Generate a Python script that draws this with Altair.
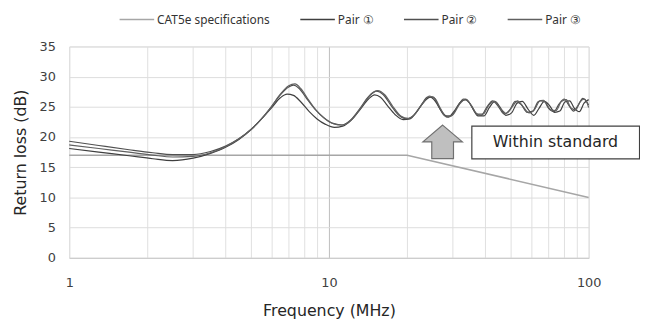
import altair as alt
import pandas as pd

# ---- data ----
spec_f = [1, 20, 100]
spec_v = [17, 17, 10]

p1_f = [1, 1.3, 1.7, 2.1, 2.5, 3.0, 3.5, 4.0, 4.5, 5.0, 5.5, 6.0, 6.5, 6.9, 7.3, 7.8, 8.4, 9.0, 9.7,
        10.5, 11.3, 12.2, 13.2, 14.2, 15.0, 15.8, 16.8, 18.0, 19.3, 20.5, 21.8, 23.2, 24.6, 25.8,
        27.2, 28.8, 30.5, 32.3, 33.8, 35.5, 37.5, 39.5, 41.5, 43.5, 45.5, 48, 50.5, 53, 55.5, 58.5,
        61.5, 64.5, 67.5, 70.5, 74, 77.5, 81, 84.5, 88, 92, 96, 100]
p1_v = [18.1, 17.5, 16.9, 16.4, 16.1, 16.5, 17.3, 18.3, 19.6, 21.2, 23.0, 24.8, 26.5, 27.1, 26.9, 25.8,
        24.2, 23.0, 22.1, 21.6, 21.8, 22.8, 24.6, 26.3, 27.0, 26.6, 25.2, 23.7, 22.9, 23.0, 24.2, 25.8,
        26.6, 25.8, 24.2, 23.3, 24.4, 25.9, 26.2, 25.0, 23.5, 23.5, 24.9, 25.9, 25.0, 23.6, 24.0, 25.6,
        25.9, 24.6, 23.6, 24.8, 25.9, 25.3, 24.1, 24.3, 25.8, 26.0, 24.8, 24.2, 25.6, 26.2]

p2_f = [1, 1.3, 1.7, 2.1, 2.5, 3.0, 3.5, 4.0, 4.5, 5.0, 5.5, 6.0, 6.5, 7.0, 7.3, 7.7, 8.2, 8.8, 9.5,
        10.3, 11.2, 12.1, 13.1, 14.2, 15.2, 16.2, 17.3, 18.6, 19.9, 21.2, 22.6, 24.0, 25.2, 26.5,
        28.0, 29.5, 31.2, 33.0, 34.8, 36.7, 38.6, 40.6, 42.7, 45.0, 47.3, 49.7, 52.2, 55, 58, 61,
        64, 67, 70, 73.5, 77, 80.5, 84, 87.5, 91, 95, 100]
p2_v = [19.3, 18.6, 17.9, 17.4, 17.1, 17.1, 17.6, 18.5, 19.7, 21.2, 23.0, 25.0, 27.0, 28.3, 28.6, 28.0,
        26.4, 24.7, 23.3, 22.3, 22.0, 22.8, 24.6, 26.7, 27.6, 27.0, 25.3, 23.6, 23.0, 23.6, 25.2, 26.6,
        26.6, 25.0, 23.5, 23.5, 25.0, 26.3, 25.6, 24.0, 23.6, 25.0, 26.0, 25.0, 23.8, 24.5, 25.9, 25.4,
        24.1, 24.3, 25.9, 26.1, 24.8, 24.2, 25.5, 26.3, 25.2, 24.3, 25.2, 26.4, 25.3]

p3_f = [1, 1.3, 1.7, 2.1, 2.5, 3.0, 3.5, 4.0, 4.5, 5.0, 5.5, 6.0, 6.5, 7.0, 7.4, 7.8, 8.3, 8.9, 9.6,
        10.4, 11.3, 12.3, 13.3, 14.4, 15.4, 16.4, 17.6, 18.9, 20.2, 21.5, 23.0, 24.4, 25.6, 26.9,
        28.4, 30.0, 31.8, 33.6, 35.4, 37.3, 39.2, 41.3, 43.4, 45.8, 48.2, 50.6, 53.2, 56, 59, 62,
        65, 68, 71.5, 75, 78.5, 82, 85.5, 89, 92.5, 96.5, 100]
p3_v = [18.7, 18.1, 17.5, 17.0, 16.7, 16.8, 17.4, 18.4, 19.7, 21.2, 23.0, 25.0, 27.1, 28.5, 28.8, 28.0,
        26.3, 24.5, 23.1, 22.2, 22.0, 23.0, 24.9, 26.9, 27.7, 27.0, 25.1, 23.5, 23.1, 23.9, 25.6, 26.8,
        26.4, 24.7, 23.3, 23.7, 25.4, 26.3, 25.2, 23.8, 23.8, 25.3, 25.9, 24.7, 23.9, 24.9, 26.0, 25.0,
        24.0, 24.6, 26.0, 25.8, 24.5, 24.4, 25.9, 26.2, 24.8, 24.5, 25.8, 26.3, 24.9]

series_names = ["CAT5e specifications", "Pair \u2460", "Pair \u2461", "Pair \u2462"]
series_colors = ["#a6a6a6", "#3f3f3f", "#505050", "#606060"]

x_ticks = [1, 2, 3, 4, 5, 6, 7, 8, 9, 10, 20, 30, 40, 50, 60, 70, 80, 90, 100]
y_ticks = [0, 5, 10, 15, 20, 25, 30, 35]

# annotation (data coordinates)
box = pd.DataFrame({"x": [35.5], "x2": [157], "y": [21.8], "y2": [16.4],
                    "tx": [74.5], "ty": [19.1], "label": ["Within standard"]})
arrow = pd.DataFrame({"x": [27.4], "y": [19.2]})

# ---- build tables ----
spec_df = pd.DataFrame({"f": spec_f, "v": spec_v, "s": series_names[0]})
pairs_df = pd.concat([
    pd.DataFrame({"f": p1_f, "v": p1_v, "s": series_names[1]}),
    pd.DataFrame({"f": p2_f, "v": p2_v, "s": series_names[2]}),
    pd.DataFrame({"f": p3_f, "v": p3_v, "s": series_names[3]}),
])

xscale = alt.Scale(type="log", domain=[1, 100], nice=False)
yscale = alt.Scale(domain=[0, 35], nice=False)
cscale = alt.Scale(domain=series_names, range=series_colors)

xaxis = alt.Axis(
    title="Frequency (MHz)", values=x_ticks,
    labelExpr="(datum.value == 1 || datum.value == 10 || datum.value == 100) ? datum.label : ''",
    ticks=False, tickSize=0, labelPadding=19, labelFont="DejaVu Sans", labelFontSize=13,
    labelColor="#404040", titleFont="DejaVu Sans", titleFontSize=16, titleFontWeight="normal",
    titleColor="#262626", titlePadding=13, grid=True,
    gridColor={"condition": {"test": "datum.value === 10", "value": "#bdbdbd"}, "value": "#e0e0e0"},
    domainColor="#c8c8c8", labelFlush=False, labelOverlap=False,
)
yaxis = alt.Axis(
    title="Return loss (dB)", values=y_ticks, tickCount=8, ticks=False, tickSize=0, labelPadding=14,
    labelFont="DejaVu Sans", labelFontSize=13, labelColor="#404040",
    titleFont="DejaVu Sans", titleFontSize=16, titleFontWeight="normal", titleColor="#262626",
    titlePadding=11, grid=True, gridColor="#dcdcdc", domain=False, labelOverlap=False,
)

legend = alt.Legend(
    title=None, orient="none", legendX=50, legendY=-46, direction="horizontal",
    symbolType="stroke", symbolSize=1225, symbolStrokeWidth=1.5, labelFont="Noto Sans",
    labelFontSize=12, labelColor="#333333", columnPadding=27, labelOffset=2,
)

X = lambda field: alt.X(field, type="quantitative", scale=xscale, axis=xaxis)
Y = lambda field: alt.Y(field, type="quantitative", scale=yscale, axis=yaxis)

spec_line = alt.Chart(spec_df).mark_line(strokeWidth=1.5).encode(
    x=X("f"), y=Y("v"),
    color=alt.Color("s:N", scale=cscale, legend=legend, sort=series_names),
)

pair_lines = alt.Chart(pairs_df).mark_line(strokeWidth=1.2, interpolate="monotone").encode(
    x=X("f"), y=Y("v"),
    color=alt.Color("s:N", scale=cscale, legend=legend, sort=series_names),
    detail="s:N",
)

box_mark = alt.Chart(box).mark_rect(fill="white", stroke="#404040", strokeWidth=1.2).encode(
    x=X("x"), x2="x2:Q", y=Y("y"), y2="y2:Q")
box_text = alt.Chart(box).mark_text(font="DejaVu Sans", fontSize=16, color="#262626").encode(
    x=X("tx"), y=Y("ty"), text="label:N")
arrow_mark = alt.Chart(arrow).mark_point(
    shape="M0,-0.85 L1,0 L0.55,0 L0.55,0.85 L-0.55,0.85 L-0.55,0 L-1,0 Z",
    size=1600, filled=True, fill="#bfbfbf", stroke="#707070", strokeWidth=1.2, opacity=1,
).encode(x=X("x"), y=Y("y"))

chart = alt.layer(spec_line, pair_lines, box_mark, box_text, arrow_mark).properties(
    width=526, height=214,
    autosize=alt.AutoSizeParams(type="none"),
    padding={"left": 62, "top": 37, "right": 52, "bottom": 60},
).configure_view(stroke=None).configure(background="white")

chart.save("out.html", embed_options={"renderer": "svg", "actions": False})
